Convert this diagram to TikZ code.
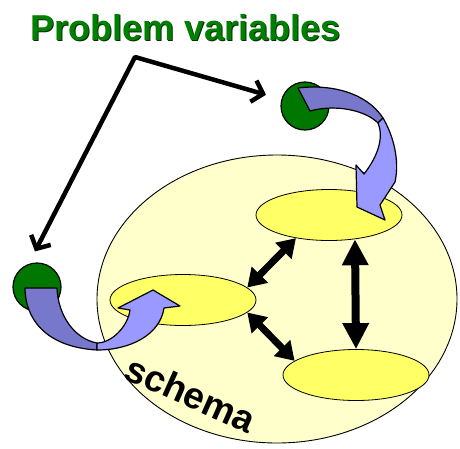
\documentclass[tikz,border=0pt]{standalone}
\usepackage{fontspec}
\setmainfont{Liberation Sans}
\usetikzlibrary{shapes.geometric,arrows.meta}
\definecolor{bigfill}{HTML}{FFFFCC}
\definecolor{smallfill}{HTML}{FFFF66}
\definecolor{ribdark}{HTML}{7777CC}
\definecolor{riblight}{HTML}{9999FF}
\definecolor{ballgreen}{HTML}{007700}
\definecolor{titlegreen}{HTML}{008000}
\definecolor{titleshadow}{HTML}{0A2A0A}
\tikzset{
  bigoval/.style={ellipse, draw=black, line width=0.9pt, fill=bigfill, inner sep=0pt, minimum width=360pt, minimum height=288pt},
  smalloval/.style={ellipse, draw=black, line width=0.8pt, fill=smallfill, inner sep=0pt, minimum width=146pt, minimum height=51pt},
  ball/.style={circle, draw=black, line width=1.2pt, fill=ballgreen, inner sep=0pt, minimum size=48pt},
  ribbondark/.style={fill=ribdark, draw=black, line width=1.2pt, line join=round},
  ribbonlight/.style={fill=riblight, draw=black, line width=1.2pt, line join=round},
  dblarrow/.style={line width=7pt, {Triangle[width=22pt,length=18pt]}-{Triangle[width=22pt,length=18pt]}},
  vdblarrow/.style={line width=8pt, {Triangle[width=25pt,length=26pt]}-{Triangle[width=25pt,length=26pt]}},
  pointer/.style={line width=4.5pt, line join=round, {Straight Barb[length=10pt,width=22pt]}-{Straight Barb[length=10pt,width=22pt]}},
  titletext/.style={font=\fontsize{36}{40}\selectfont\bfseries, inner sep=0pt, anchor=base west},
  schematext/.style={font=\fontsize{37}{40}\selectfont\bfseries, inner sep=0pt, rotate=-24}
}
\begin{document}
\begin{tikzpicture}[x=1pt,y=-1pt]
\useasboundingbox (0,0) rectangle (460,448);
% schema region
\node[bigoval] (schemaoval) at (277,299) {};
\node[schematext] (schemalabel) at (191,394) {schema};
% small ovals
\node[smalloval] (top) at (329,215) {};
\node[smalloval] (left) at (183,300) {};
\node[smalloval] (bot) at (356,375) {};
% green balls
\node[ball] (gtop) at (305,106) {};
\node[ball] (gleft) at (37,287) {};
% top ribbon arrow
\path[ribbondark] (298,88) .. controls (330,84) and (366,92) .. (383,118)
  -- (378,123) .. controls (365,110) and (335,104) .. (310,111) -- cycle;
\path[ribbonlight] (383,118) .. controls (393,135) and (400,160) .. (395,182)
  -- (380,205) -- (385,220) -- (357,207) -- (356,165) -- (364,174)
  .. controls (375,160) and (385,140) .. (378,123) -- cycle;
% left ribbon arrow
\path[ribbondark] (25,288) .. controls (25,318) and (45,347) .. (97,350)
  -- (97,343) .. controls (75,339) and (58,316) .. (57,288) -- cycle;
\path[ribbonlight] (97,343) .. controls (112,343) and (128,326) .. (130,310)
  -- (118,308) -- (153,290) -- (180,306) -- (164,308)
  .. controls (160,335) and (130,350) .. (97,350) -- cycle;
% double arrows between ovals
\draw[vdblarrow] (top.-43) -- (bot.north);
\draw[dblarrow] (left.11) -- (top.215);
\draw[dblarrow] (left.-11) -- (bot.167);
% title
\node[titletext, text=titleshadow] (titleshadow) at (31.5,41.5) {Problem variables};
\node[titletext, text=titlegreen] (title) at (30,40) {Problem variables};
% pointer arrows
\coordinate (bend) at (135,57);
\draw[pointer, shorten <=16pt, shorten >=14pt] (gtop) -- (bend) -- (gleft.110);
\end{tikzpicture}
\end{document}
